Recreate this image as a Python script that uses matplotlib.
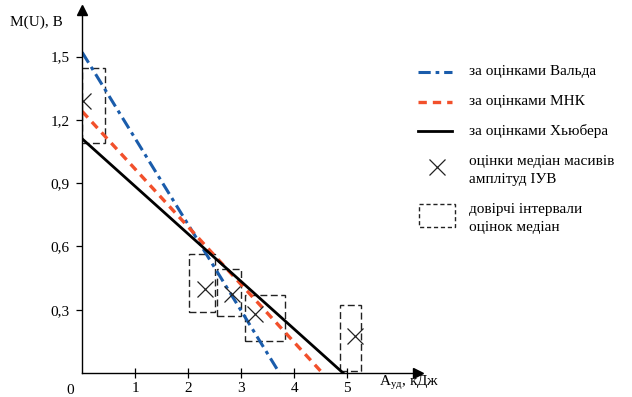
import matplotlib

matplotlib.use("Agg")
import matplotlib.pyplot as plt
from matplotlib.patches import Rectangle

plt.rcParams["font.family"] = ["Liberation Serif", "DejaVu Serif"]
plt.rcParams["mathtext.fontset"] = "custom"
plt.rcParams["mathtext.rm"] = "Liberation Serif"

# regression lines: (intercept at A=0, zero crossing)
wald_line = [(0.0, 1.52), (3.72, 0.0)]
mnk_line = [(0.0, 1.24), (4.53, 0.0)]
huber_line = [(0.0, 1.11), (4.92, 0.0)]

# medians of IUV amplitude arrays
median_x = [0.02, 2.32, 2.83, 3.25, 5.15]
median_y = [1.29, 0.40, 0.375, 0.28, 0.175]

# confidence intervals: x-range and y-range of each box
box_x0 = [0.0, 2.02, 2.55, 3.08, 4.87]
box_x1 = [0.43, 2.51, 3.00, 3.83, 5.25]
box_y0 = [1.09, 0.29, 0.27, 0.15, 0.01]
box_y1 = [1.445, 0.564, 0.493, 0.37, 0.32]

x_ticks = [1, 2, 3, 4, 5]
y_ticks = [0.3, 0.6, 0.9, 1.2, 1.5]
y_tick_labels = ["0,3", "0,6", "0,9", "1,2", "1,5"]

legend_labels = ["за оцінками Вальда", "за оцінками МНК", "за оцінками Хьюбера",
                 "оцінки медіан масивів\nамплітуд ІУВ",
                 "довірчі інтервали\nоцінок медіан"]

BLUE = "#1a5cab"
RED = "#f2502b"
BOX = "#222222"
wald_style = dict(color=BLUE, lw=2.2, dashes=(4, 1.6, 1.2, 1.6))
mnk_style = dict(color=RED, lw=2.4, dashes=(2.5, 1.8))
huber_style = dict(color="black", lw=2.0)
box_style = dict(fill=False, edgecolor=BOX, lw=1.0, ls=(0, (5, 2.5)))

fig = plt.figure(figsize=(6.32, 3.97), dpi=100)
ax = fig.add_axes([0.13, 0.0605, 0.532, 0.914])
ax.set_xlim(0, 6.34)
ax.set_ylim(0, 1.72)

for side in ("top", "right"):
    ax.spines[side].set_visible(False)
for side in ("left", "bottom"):
    ax.spines[side].set_linewidth(1.0)
ax.plot(1, 0, ">", color="black", ms=7, transform=ax.transAxes, clip_on=False)
ax.plot(0, 1, "^", color="black", ms=7, transform=ax.transAxes, clip_on=False)

ax.plot(*zip(*wald_line), **wald_style)
ax.plot(*zip(*mnk_line), **mnk_style)
ax.plot(*zip(*huber_line), **huber_style)

for x0, x1, y0, y1 in zip(box_x0, box_x1, box_y0, box_y1):
    ax.add_patch(Rectangle((x0, y0), x1 - x0, y1 - y0, **box_style))

ax.plot(median_x, median_y, "x", color=BOX, ms=12, mew=0.9, ls="none")

ax.set_xticks(x_ticks)
ax.set_xticklabels([str(v) for v in x_ticks], fontsize=11)
ax.set_yticks(y_ticks)
ax.set_yticklabels(y_tick_labels, fontsize=11)
ax.tick_params(axis="x", direction="inout", length=7, width=0.9, pad=3)
ax.tick_params(axis="y", direction="out", length=4, width=0.9, pad=5)

ax.text(-0.035, -0.047, "0", transform=ax.transAxes, fontsize=11,
        ha="center", va="center")
fig.text(0.016, 0.945, "M(U), B", fontsize=11, ha="left", va="center")
fig.text(0.6, 0.012, r"A$_{\rm уд}$, кДж", fontsize=11, ha="left", va="bottom")

# legend drawn in a pixel-coordinate overlay
lg = fig.add_axes([0, 0, 1, 1], facecolor="none")
lg.set_xlim(0, 632)
lg.set_ylim(397, 0)
lg.axis("off")
lg.plot([418, 452], [72, 72], **wald_style)
lg.plot([418, 452], [102, 102], **mnk_style)
lg.plot([418, 452], [131, 131], **huber_style)
lg.plot([437], [167], "x", color=BOX, ms=12, mew=0.9)
lg.add_patch(Rectangle((419, 204), 36, 23, fill=False, edgecolor=BOX, lw=1.0,
                       ls=(0, (3, 2))))
for label, ty in zip(legend_labels, [72, 102, 131, 170, 218]):
    lg.text(469, ty, label, fontsize=11, ha="left", va="center",
            linespacing=1.5)

fig.savefig("out.png", dpi=100)
